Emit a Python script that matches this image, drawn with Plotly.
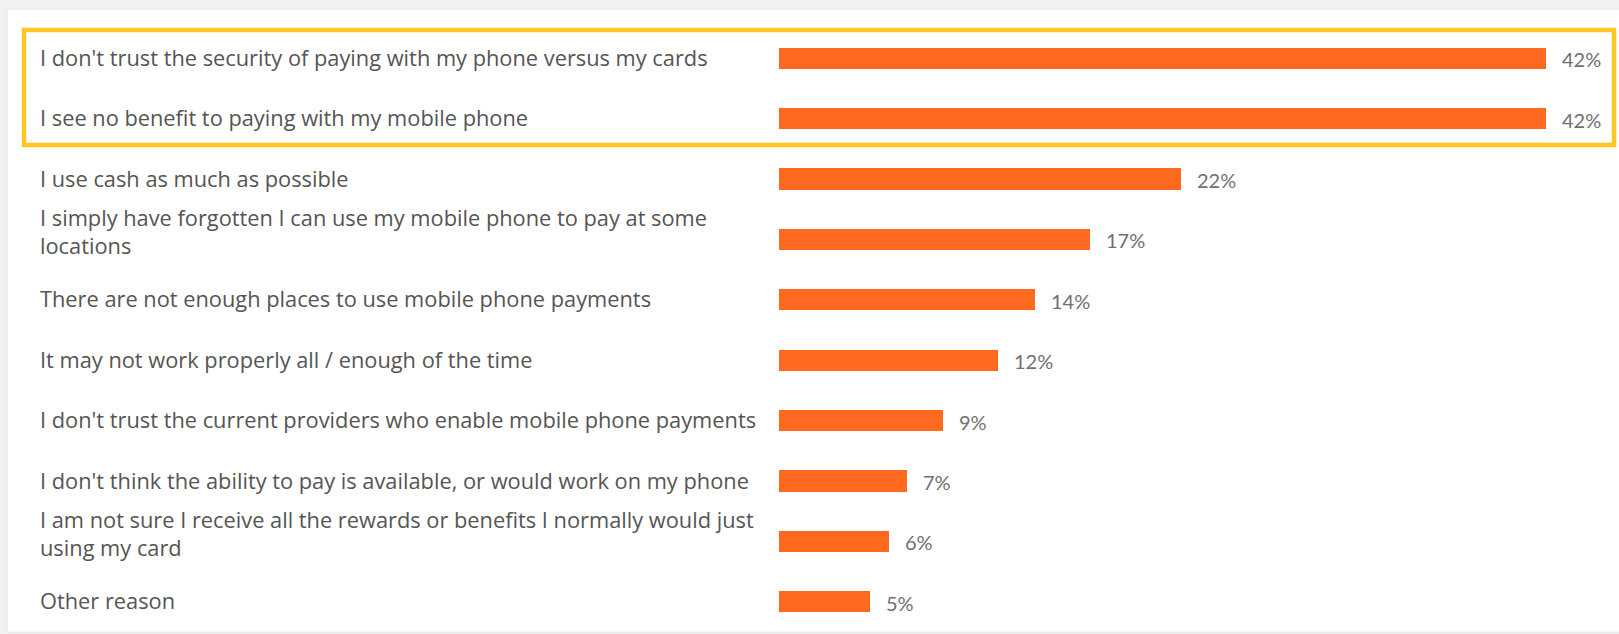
import plotly.graph_objects as go

# Survey responses: reasons for not paying with a mobile phone
reasons = [
    "I don't trust the security of paying with my phone versus my cards",
    "I see no benefit to paying with my mobile phone",
    "I use cash as much as possible",
    "I simply have forgotten I can use my mobile phone to pay at some<br>locations",
    "There are not enough places to use mobile phone payments",
    "It may not work properly all / enough of the time",
    "I don't trust the current providers who enable mobile phone payments",
    "I don't think the ability to pay is available, or would work on my phone",
    "I am not sure I receive all the rewards or benefits I normally would just<br>using my card",
    "Other reason",
]
shares = [42, 42, 22, 17, 14, 12, 9, 7, 6, 5]

W, H = 1619, 634
L, R, T, B = 779, 0, 28, 2
plot_w = W - L - R
plot_h = H - T - B
x_max = plot_w / 18.27

BAR = "#FF691F"
GOLD = "#FFC726"
TEXT = "#555555"
VAL = "#707070"
LABEL_FONT = "'Open Sans', 'Noto Sans', sans-serif"
VALUE_FONT = "Lato, 'Noto Sans', sans-serif"

ypos = list(range(len(reasons)))

fig = go.Figure(
    go.Bar(
        x=shares,
        y=ypos,
        orientation="h",
        marker=dict(color=BAR, line=dict(width=0)),
        width=0.35,
        hoverinfo="skip",
    )
)


def px_x(px):
    return (px - L) / plot_w


def px_y(py):
    return (H - B - py) / plot_h


shapes = [
    # white card on the grey page
    dict(type="rect", xref="paper", yref="paper",
         x0=px_x(7), x1=px_x(W + 5), y0=px_y(632), y1=px_y(9),
         fillcolor="white", line=dict(color="#e6e6e6", width=1), layer="below"),
    # highlight around the two leading reasons
    dict(type="rect", xref="paper", yref="paper",
         x0=px_x(24), x1=px_x(1614), y0=px_y(145), y1=px_y(30),
         fillcolor="rgba(0,0,0,0)", line=dict(color=GOLD, width=4.5), layer="above"),
]

annotations = []
for i, (txt, v) in enumerate(zip(reasons, shares)):
    two_line = "<br>" in txt
    annotations.append(dict(
        x=px_x(38), xref="paper", y=i, yref="y",
        text=txt, showarrow=False, xanchor="left", yanchor="middle", align="left",
        yshift=8 if two_line else 1,
        font=dict(family=LABEL_FONT, size=21.8, color=TEXT),
    ))
    annotations.append(dict(
        x=v, xref="x", y=i, yref="y",
        text=f"{v}%", showarrow=False, xanchor="left", yanchor="middle",
        xshift=14, yshift=-1,
        font=dict(family=VALUE_FONT, size=20, color=VAL),
    ))

fig.update_layout(
    width=W, height=H,
    margin=dict(l=L, r=R, t=T, b=B, pad=0),
    paper_bgcolor="#f1f1f1",
    plot_bgcolor="rgba(0,0,0,0)",
    showlegend=False,
    bargap=0,
    xaxis=dict(range=[0, x_max], visible=False, fixedrange=True),
    yaxis=dict(range=[len(reasons) - 0.5, -0.5], visible=False, fixedrange=True),
    shapes=shapes,
    annotations=annotations,
)

fig.write_html("out.html", config={"displayModeBar": False})
